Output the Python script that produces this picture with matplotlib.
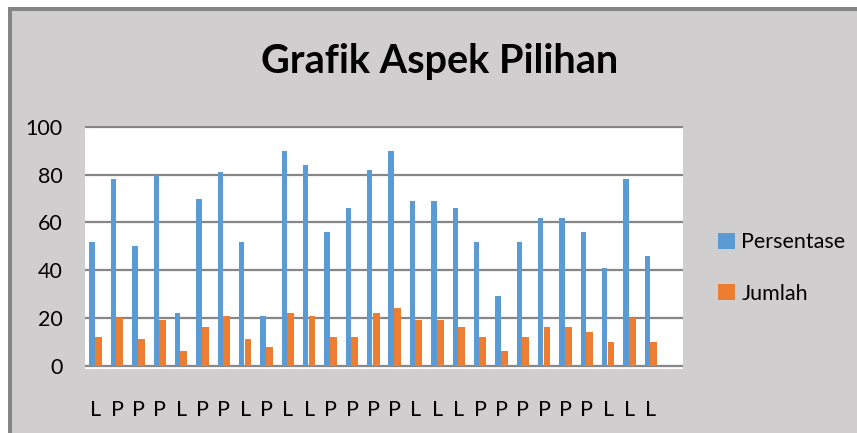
import matplotlib
matplotlib.use("Agg")
import matplotlib.pyplot as plt
from matplotlib.patches import Rectangle
import numpy as np

plt.rcParams['font.family'] = ['Lato', 'DejaVu Sans']

# data
labels = ['L', 'P', 'P', 'P', 'L', 'P', 'P', 'L', 'P', 'L', 'L', 'P', 'P', 'P',
          'P', 'L', 'L', 'L', 'P', 'P', 'P', 'P', 'P', 'P', 'L', 'L', 'L']
persentase = [52, 78, 50, 80, 22, 70, 81, 52, 21, 90, 84, 56, 66, 82,
              90, 69, 69, 66, 52, 29, 52, 62, 62, 56, 41, 78, 46]
jumlah = [12, 20, 11, 19, 6, 16, 21, 11, 8, 22, 21, 12, 12, 22,
          24, 19, 19, 16, 12, 6, 12, 16, 16, 14, 10, 20, 10]

blue = '#5B9BD5'
orange = '#ED7D31'
bg = '#D0CECE'
grid_col = '#868686'

fig = plt.figure(figsize=(8.57, 4.33), dpi=100)
fig.patch.set_facecolor('white')

# chart area with the dark border visible on the left and top
W, H = 857, 433
fig.patches.append(Rectangle((10 / W, -0.05), 1.1, (433 - 9) / H + 0.05,
                             transform=fig.transFigure, facecolor=bg,
                             edgecolor='#858585', linewidth=2.9, zorder=-10))

ax = fig.add_axes([85 / W, (433 - 369) / H, (683 - 85) / W, (369 - 126) / H])
ax.set_facecolor('white')

x = np.arange(len(labels))
ax.bar(x - 0.165, persentase, width=0.25, color=blue, label='Persentase', zorder=3)
ax.bar(x + 0.13, jumlah, width=0.32, color=orange, label='Jumlah', zorder=3)

ax.set_xlim(-0.5, len(labels) + 0.5)
ax.set_ylim(-1.4, 100.4)
ax.set_yticks(range(0, 101, 20))
ax.set_xticks(x)
ax.set_xticklabels(labels)

ax.yaxis.grid(True, color=grid_col, linewidth=1.6, zorder=1)
for s in ax.spines.values():
    s.set_visible(False)
ax.tick_params(axis='both', length=0, labelsize=15.5, colors='black')
ax.tick_params(axis='y', pad=16)
ax.tick_params(axis='x', pad=22)

fig.text(440 / W, 1 - 62 / H, 'Grafik Aspek Pilihan', ha='center', va='center',
         fontsize=28.5, fontweight='bold')

fig.legend(loc='center left', bbox_to_anchor=(709 / W, 1 - 268 / H),
           frameon=False, fontsize=15.5, handlelength=0.8, handleheight=0.8,
           handletextpad=0.3, labelspacing=1.45, borderaxespad=0)

fig.savefig('out.png', dpi=100, facecolor=fig.get_facecolor())
